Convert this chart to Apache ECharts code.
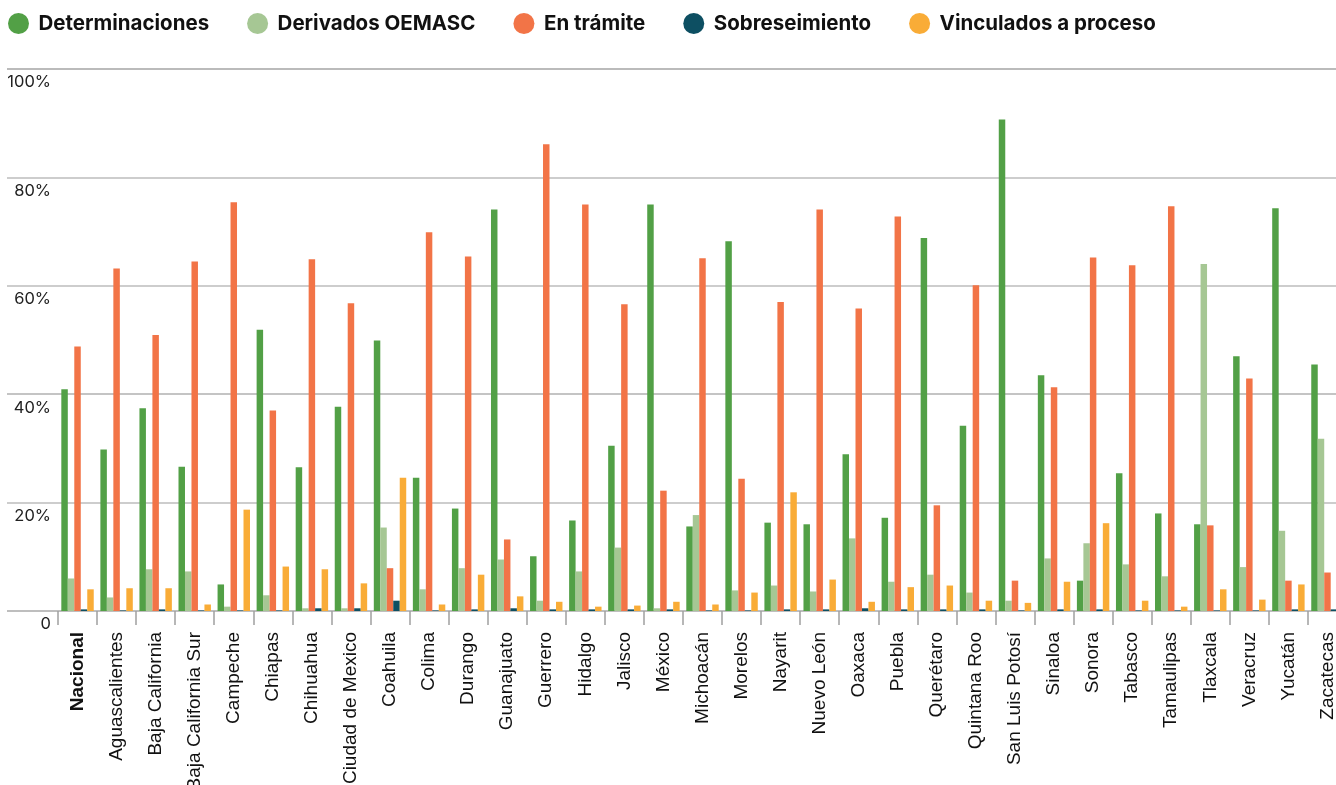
<!DOCTYPE html>
<html>
<head>
<meta charset="utf-8">
<script src="https://cdn.jsdelivr.net/npm/echarts@6/dist/echarts.min.js"></script>
<style>
  html, body { margin: 0; padding: 0; background: #fff; }
  #chart { width: 1336px; height: 785px; }
</style>
</head>
<body>
<div id="chart"></div>
<script>
// Categories (states)
var estados = ['Nacional', 'Aguascalientes', 'Baja California', 'Baja California Sur', 'Campeche',
  'Chiapas', 'Chihuahua', 'Ciudad de Mexico', 'Coahuila', 'Colima', 'Durango', 'Guanajuato',
  'Guerrero', 'Hidalgo', 'Jalisco', 'México', 'Michoacán', 'Morelos', 'Nayarit', 'Nuevo León',
  'Oaxaca', 'Puebla', 'Querétaro', 'Quintana Roo', 'San Luis Potosí', 'Sinaloa', 'Sonora',
  'Tabasco', 'Tamaulipas', 'Tlaxcala', 'Veracruz', 'Yucatán', 'Zacatecas'];

// Series values (%)
var determinaciones = [40.9, 29.8, 37.4, 26.6, 4.9, 51.9, 26.5, 37.7, 49.9, 24.6, 18.9, 74.1,
  10.1, 16.7, 30.5, 75.0, 15.6, 68.2, 16.3, 16.0, 28.9, 17.2, 68.8, 34.2, 90.7, 43.5, 5.6,
  25.4, 18.0, 16.0, 47.0, 74.3, 45.5];
var derivados = [6.0, 2.5, 7.7, 7.3, 0.8, 2.9, 0.5, 0.5, 15.4, 4.0, 7.9, 9.5,
  1.9, 7.3, 11.7, 0.5, 17.7, 3.8, 4.7, 3.6, 13.4, 5.4, 6.7, 3.4, 1.9, 9.7, 12.5,
  8.6, 6.4, 64.0, 8.1, 14.8, 31.8];
var enTramite = [48.8, 63.2, 50.9, 64.5, 75.4, 37.0, 64.9, 56.8, 7.9, 69.9, 65.4, 13.2,
  86.1, 75.0, 56.6, 22.2, 65.1, 24.4, 57.0, 74.1, 55.8, 72.8, 19.5, 60.1, 5.6, 41.3, 65.2,
  63.8, 74.7, 15.8, 42.9, 5.6, 7.1];
var sobreseimiento = [0.3, 0.1, 0.3, 0.1, 0.1, 0.1, 0.5, 0.5, 1.9, 0.1, 0.3, 0.5,
  0.3, 0.3, 0.3, 0.3, 0.1, 0.1, 0.3, 0.3, 0.5, 0.3, 0.3, 0.3, 0.1, 0.3, 0.3,
  0.1, 0.1, 0.1, 0.1, 0.3, 0.3];
var vinculados = [4.0, 4.2, 4.2, 1.2, 18.7, 8.2, 7.7, 5.1, 24.6, 1.2, 6.7, 2.7,
  1.7, 0.8, 1.0, 1.7, 1.2, 3.4, 21.9, 5.8, 1.7, 4.4, 4.7, 1.9, 1.5, 5.4, 16.2,
  1.9, 0.8, 4.0, 2.1, 4.9, 1.5];

// Tick labels
var yTicks = [0, 20, 40, 60, 80, 100];

var colores = ['#52a046', '#a6c794', '#f27447', '#0d4f62', '#f9ac37'];
var nombres = ['Determinaciones', 'Derivados OEMASC', 'En trámite', 'Sobreseimiento', 'Vinculados a proceso'];
var valores = [determinaciones, derivados, enTramite, sobreseimiento, vinculados];

var myChart = echarts.init(document.getElementById('chart'));

var series = nombres.map(function(nombre, i) {
  return {
    name: nombre,
    type: 'bar',
    data: valores[i],
    xAxisIndex: 0,
    yAxisIndex: 0,
    barGap: '0%',
    barCategoryGap: '17%',
    itemStyle: { color: colores[i] },
    emphasis: { disabled: true }
  };
});

var option = {
  animation: false,
  textStyle: { fontFamily: 'Liberation Sans, Arial, sans-serif' },
  legend: {
    data: nombres,
    left: 3,
    top: 8,
    icon: 'circle',
    itemWidth: 30,
    itemHeight: 21,
    itemGap: 38,
    textStyle: {
      fontFamily: 'Inter, sans-serif',
      fontWeight: 'bold',
      fontSize: 20.5,
      color: '#111'
    }
  },
  grid: [
    // bars (last group runs past the right edge, as in the original)
    { left: 58, width: 1289, top: 69, bottom: 174, containLabel: false, outerBoundsMode: 'none' },
    // gridlines spanning the full width
    { left: 7, right: 0, top: 69, bottom: 174, containLabel: false, outerBoundsMode: 'none' }
  ],
  xAxis: [
    {
      type: 'category',
      gridIndex: 0,
      data: estados,
      axisLine: { show: false },
      axisTick: { show: true, length: 14, lineStyle: { color: '#a0a0a0', width: 1.5 } },
      axisLabel: {
        interval: 0,
        rotate: 90,
        margin: 21,
        fontSize: 19,
        color: '#111',
        fontFamily: 'Liberation Sans, Arial, sans-serif',
        formatter: function(v) {
          return v === 'Nacional' ? '{b|' + v + '}' : v;
        },
        rich: {
          b: { fontWeight: 'bold', fontSize: 19, color: '#111', fontFamily: 'Liberation Sans, Arial, sans-serif' }
        }
      }
    },
    { type: 'value', gridIndex: 1, show: false, min: 0, max: 1 }
  ],
  yAxis: [
    {
      type: 'value',
      gridIndex: 0,
      min: 0,
      max: 100,
      interval: 20,
      splitLine: { show: false },
      axisLine: { show: false },
      axisTick: { show: false },
      axisLabel: {
        margin: 7,
        verticalAlign: 'top',
        padding: [5, 0, 0, 0],
        fontFamily: 'Inter, sans-serif',
        fontSize: 16.5,
        color: '#222',
        formatter: function(v) {
          return yTicks.indexOf(v) < 0 ? '' : (v === 0 ? '0' : v + '%');
        }
      }
    },
    {
      type: 'value',
      gridIndex: 1,
      min: 0,
      max: 100,
      interval: 20,
      axisLine: { show: false },
      axisTick: { show: false },
      axisLabel: { show: false },
      splitLine: { lineStyle: { color: ['#a9a9a9', '#bdbdbd', '#b0b0b0', '#bdbdbd', '#bdbdbd', '#a4a4a4'], width: 1.5 } }
    }
  ],
  series: series
};

myChart.setOption(option);
</script>
</body>
</html>
